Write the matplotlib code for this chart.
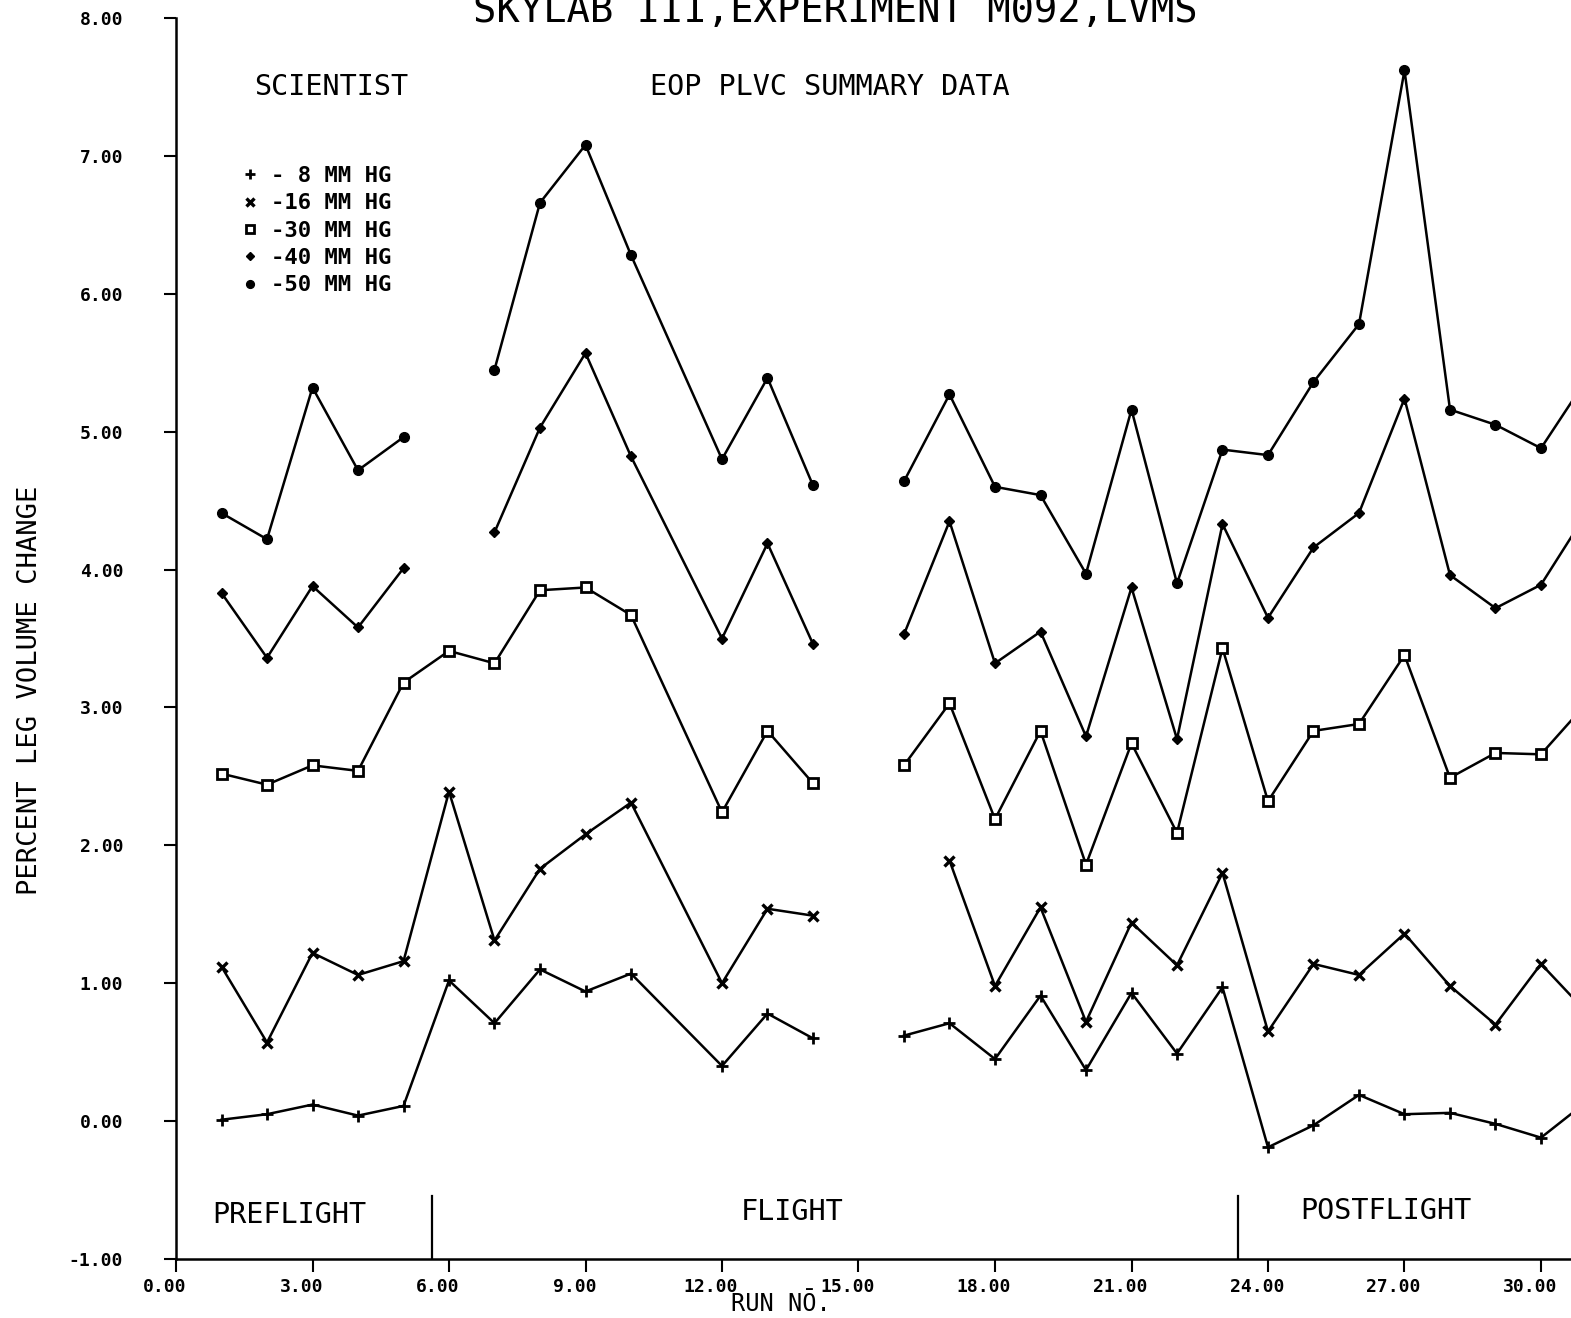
"""SKYLAB III, Experiment M092 (LVMS) - EOP PLVC summary plot, scientist."""
import matplotlib
matplotlib.use("Agg")
import matplotlib.pyplot as plt
import matplotlib.transforms as mtransforms
from matplotlib.lines import Line2D
import numpy as np

nan = np.nan

# --------------------------------------------------------------------------- #
# data; nan breaks the line
# --------------------------------------------------------------------------- #
runs_50 = [1, 2, 3, 4, 5, nan, 7, 8, 9, 10, 12, 13, 14, nan,
           16, 17, 18, 19, 20, 21, 22, 23, 24, 25, 26, 27, 28, 29, 30, 31]
vals_50 = [4.41, 4.22, 5.32, 4.72, 4.96, nan, 5.45, 6.66, 7.08, 6.28, 4.80, 5.39, 4.61, nan,
           4.64, 5.27, 4.60, 4.54, 3.97, 5.16, 3.90, 4.87, 4.83, 5.36, 5.78, 7.62, 5.16, 5.05, 4.88, 5.38]

runs_40 = runs_50
vals_40 = [3.83, 3.36, 3.88, 3.58, 4.01, nan, 4.27, 5.03, 5.57, 4.82, 3.50, 4.19, 3.46, nan,
           3.53, 4.35, 3.32, 3.55, 2.79, 3.87, 2.77, 4.33, 3.65, 4.16, 4.41, 5.24, 3.96, 3.72, 3.89, 4.41]

runs_30 = [1, 2, 3, 4, 5, 6, 7, 8, 9, 10, 12, 13, 14, nan,
           16, 17, 18, 19, 20, 21, 22, 23, 24, 25, 26, 27, 28, 29, 30, 31]
vals_30 = [2.52, 2.44, 2.58, 2.54, 3.18, 3.41, 3.32, 3.85, 3.87, 3.67, 2.24, 2.83, 2.45, nan,
           2.58, 3.03, 2.19, 2.83, 1.86, 2.74, 2.09, 3.43, 2.32, 2.83, 2.88, 3.38, 2.49, 2.67, 2.66, 3.03]

runs_16 = [1, 2, 3, 4, 5, 6, 7, 8, 9, 10, 12, 13, 14, nan,
           17, 18, 19, 20, 21, 22, 23, 24, 25, 26, 27, 28, 29, 30, 31]
vals_16 = [1.12, 0.57, 1.22, 1.06, 1.16, 2.39, 1.31, 1.83, 2.08, 2.31, 1.00, 1.54, 1.49, nan,
           1.89, 0.98, 1.55, 0.72, 1.44, 1.13, 1.80, 0.65, 1.14, 1.06, 1.36, 0.98, 0.70, 1.14, 0.79]

runs_8 = runs_30
vals_8 = [0.01, 0.05, 0.12, 0.04, 0.11, 1.02, 0.71, 1.10, 0.94, 1.07, 0.40, 0.78, 0.60, nan,
          0.62, 0.71, 0.45, 0.91, 0.37, 0.93, 0.49, 0.97, -0.19, -0.03, 0.19, 0.05, 0.06, -0.02, -0.12, 0.14]

legend_labels = ["- 8 MM HG", "-16 MM HG", "-30 MM HG", "-40 MM HG", "-50 MM HG"]
x_ticks = [0, 3, 6, 9, 12, 15, 18, 21, 24, 27, 30]
y_ticks = [-1, 0, 1, 2, 3, 4, 5, 6, 7, 8]
phase_bounds = [5.63, 23.35]   # PREFLIGHT | FLIGHT | POSTFLIGHT

# --------------------------------------------------------------------------- #
# figure
# --------------------------------------------------------------------------- #
W, H = 1571, 1318
plt.rcParams["font.family"] = ["DejaVu Sans Mono", "DejaVu Sans"]

fig = plt.figure(figsize=(W / 100, H / 100), dpi=100)
fig.patch.set_facecolor("white")
# left spine at x=176 px, bottom at y=1259 px, top (8.00) at y=18 px; right runs off the page
ax = fig.add_axes([176 / W, 59 / H, 1 - 176 / W, (1259 - 18) / H])
ax.set_xlim(0, (W - 176) / 45.5)
ax.set_ylim(-1, 8)

series = [
    (runs_8, vals_8, dict(marker="+", markersize=8.5, markeredgewidth=2.0)),
    (runs_16, vals_16, dict(marker="x", markersize=7, markeredgewidth=2.4)),
    (runs_30, vals_30, dict(marker="s", markersize=6.5, markeredgewidth=2.0, markerfacecolor="white")),
    (runs_40, vals_40, dict(marker="D", markersize=5.5)),
    (runs_50, vals_50, dict(marker="o", markersize=7)),
]
handles = []
for (xs, ys, mk), lab in zip(series, legend_labels):
    fc = mk.pop("markerfacecolor", "black")
    ax.plot(xs, ys, color="black", lw=1.8, markeredgecolor="black",
            markerfacecolor=fc, **mk)
    handles.append(Line2D([], [], color="black", lw=0, label=lab,
                          markerfacecolor=fc, markeredgecolor="black",
                          marker=mk["marker"], markersize=mk["markersize"] * 0.8,
                          markeredgewidth=mk.get("markeredgewidth", 1.0)))

# phase dividers
for xb in phase_bounds:
    ax.plot([xb, xb], [-1, -0.54], color="black", lw=1.6)
ax.text(2.5, -0.68, "PREFLIGHT", fontsize=20.5, ha="center", va="center")
ax.text(13.55, -0.66, "FLIGHT", fontsize=20.5, ha="center", va="center")
ax.text(26.6, -0.65, "POSTFLIGHT", fontsize=20.5, ha="center", va="center")

# header texts
ax.text(3.4, 7.50, "SCIENTIST", fontsize=20.5, ha="center", va="center")
ax.text(14.37, 7.50, "EOP PLVC SUMMARY DATA", fontsize=20.5, ha="center", va="center")
fig.text(835 / W, 1 - 22 / H, "SKYLAB III,EXPERIMENT M092,LVMS",
         fontsize=28, ha="center", va="baseline")

ax.legend(handles=handles, loc="upper left", bbox_to_anchor=(244 / W, 1 - 166 / H),
          bbox_transform=fig.transFigure, frameon=False,
          prop=dict(size=16, weight="bold"),
          borderpad=0, borderaxespad=0, handlelength=0.5, handletextpad=0.7,
          labelspacing=0.33)

# axes styling
for side in ("top", "right"):
    ax.spines[side].set_visible(False)
for side in ("left", "bottom"):
    ax.spines[side].set_linewidth(1.8)

ax.set_xticks(x_ticks)
ax.set_xticklabels([f"{t:.2f}" for t in x_ticks])
ax.set_yticks(y_ticks)
ax.set_yticklabels([f"{t:.2f}" for t in y_ticks])
ax.tick_params(axis="both", direction="out", length=9, width=1.5, labelsize=13)
for lbl in ax.get_xticklabels() + ax.get_yticklabels():
    lbl.set_fontweight("bold")
ax.tick_params(axis="y", pad=29)
ax.tick_params(axis="x", pad=5)
shift = mtransforms.ScaledTranslation(-0.11, 0, fig.dpi_scale_trans)
for lbl in ax.get_xticklabels():
    lbl.set_transform(lbl.get_transform() + shift)

fig.text(30 / W, 1 - 690 / H, "PERCENT LEG VOLUME CHANGE", fontsize=19.5,
         rotation=90, ha="center", va="center")
fig.text(781 / W, 1 - 1304 / H, "RUN NŌ.", fontsize=17, ha="center", va="center")

fig.savefig("out.png", dpi=100, facecolor="white")
